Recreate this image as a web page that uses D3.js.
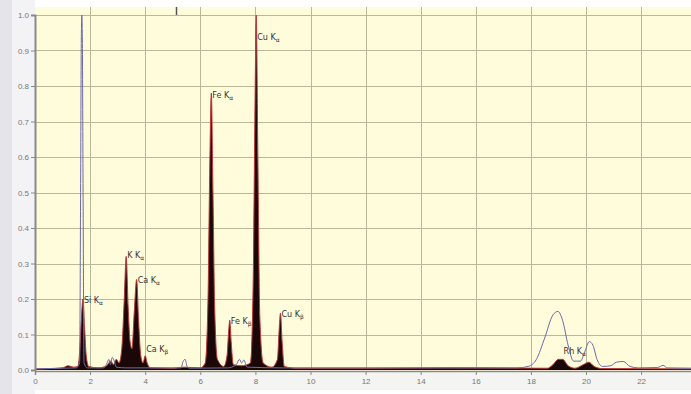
<!DOCTYPE html>
<html>
<head>
<meta charset="utf-8">
<script src="https://cdn.jsdelivr.net/npm/d3@7"></script>
<style>
  body { margin: 0; background: #fff; }
  svg { display: block; font-family: "DejaVu Sans", sans-serif; }
</style>
</head>
<body>
<svg id="chart"></svg>
<script>
const W = 691, H = 394;

// measured spectrum (filled, black with red edge): [keV, intensity]
const sampleSpectrum = [
  [0.0, 0.003], [0.5, 0.004], [1.0, 0.006], [1.2, 0.012], [1.4, 0.008], [1.55, 0.01],
  [1.62, 0.05], [1.68, 0.14], [1.74, 0.2], [1.8, 0.12], [1.86, 0.04], [1.95, 0.01],
  [2.3, 0.006], [2.6, 0.012], [2.75, 0.025], [2.85, 0.015], [2.95, 0.03], [3.05, 0.02],
  [3.15, 0.06], [3.24, 0.2], [3.31, 0.32], [3.38, 0.18], [3.45, 0.08], [3.52, 0.06],
  [3.6, 0.16], [3.69, 0.255], [3.76, 0.14], [3.84, 0.04], [3.92, 0.02], [4.0, 0.04],
  [4.07, 0.02], [4.2, 0.006], [5.0, 0.005], [5.4, 0.008], [6.0, 0.006], [6.18, 0.02],
  [6.28, 0.2], [6.34, 0.55], [6.4, 0.78], [6.46, 0.5], [6.52, 0.18], [6.62, 0.03],
  [6.85, 0.01], [6.97, 0.04], [7.03, 0.11], [7.07, 0.14], [7.12, 0.08], [7.2, 0.015],
  [7.5, 0.012], [7.82, 0.02], [7.92, 0.25], [7.98, 0.7], [8.03, 1.0], [8.09, 0.6],
  [8.16, 0.15], [8.28, 0.02], [8.6, 0.008], [8.8, 0.03], [8.86, 0.11], [8.91, 0.16],
  [8.97, 0.08], [9.05, 0.01], [9.5, 0.005], [12.0, 0.005], [15.0, 0.006], [18.6, 0.005],
  [18.8, 0.015], [19.0, 0.03], [19.15, 0.03], [19.35, 0.012], [19.6, 0.005], [19.9, 0.015],
  [20.1, 0.022], [20.3, 0.01], [20.6, 0.004], [24.0, 0.003]
];

// reference spectrum (outline only): [keV, intensity]
const referenceSpectrum = [
  [0.0, 0.003], [1.0, 0.005], [1.5, 0.006], [1.62, 0.02], [1.655, 0.5], [1.68, 0.92],
  [1.7, 1.0], [1.72, 0.92], [1.745, 0.5], [1.78, 0.02], [1.9, 0.006], [2.5, 0.006],
  [2.62, 0.02], [2.68, 0.03], [2.74, 0.015], [2.8, 0.035], [2.88, 0.025], [2.95, 0.008],
  [3.3, 0.006], [5.3, 0.006], [5.38, 0.025], [5.45, 0.03], [5.52, 0.01], [5.6, 0.005],
  [7.0, 0.006], [7.3, 0.015], [7.42, 0.03], [7.5, 0.02], [7.58, 0.028], [7.7, 0.008],
  [9.0, 0.006], [17.5, 0.006], [17.9, 0.01], [18.2, 0.03], [18.5, 0.09], [18.8, 0.155],
  [18.98, 0.165], [19.15, 0.14], [19.35, 0.07], [19.55, 0.025], [19.8, 0.025], [19.95, 0.05],
  [20.12, 0.08], [20.25, 0.07], [20.4, 0.03], [20.6, 0.01], [20.9, 0.012], [21.1, 0.022],
  [21.35, 0.024], [21.6, 0.01], [21.9, 0.006], [22.6, 0.007], [22.8, 0.013], [22.95, 0.006],
  [24.0, 0.005]
];

// peak labels: [keV, intensity at label baseline, element, line]
const peakLabels = [
  [1.74, 0.19, "Si K", "α"],
  [3.31, 0.315, "K K", "α"],
  [3.69, 0.245, "Ca K", "α"],
  [4.0, 0.05, "Ca K", "β"],
  [6.4, 0.765, "Fe K", "α"],
  [7.07, 0.13, "Fe K", "β"],
  [8.03, 0.93, "Cu K", "α"],
  [8.91, 0.15, "Cu K", "β"],
  [19.15, 0.045, "Rh K", "α"]
];

const xTicks = [0, 2, 4, 6, 8, 10, 12, 14, 16, 18, 20, 22];
const yTicks = [0, 0.1, 0.2, 0.3, 0.4, 0.5, 0.6, 0.7, 0.8, 0.9, 1.0];
const cursorKeV = 5.1;

const plotLeft = 35, plotTop = 7, plotBottom = 370;
const x = d3.scaleLinear().domain([0, 24]).range([plotLeft, plotLeft + 27.55 * 24]);
const y = d3.scaleLinear().domain([0, 1]).range([plotBottom, 15]);

const svg = d3.select("#chart").attr("width", W).attr("height", H);

// panels
svg.append("rect").attr("x", 0).attr("y", 0).attr("width", W).attr("height", H).attr("fill", "#ffffff");
svg.append("rect").attr("x", 0).attr("y", 0).attr("width", 12).attr("height", H).attr("fill", "#e4e4ea");
svg.append("rect").attr("x", 12).attr("y", 0).attr("width", 23).attr("height", H).attr("fill", "#f3f3f6");
svg.append("rect").attr("x", plotLeft).attr("y", plotBottom + 2).attr("width", W - plotLeft).attr("height", 18).attr("fill", "#f4f4f2");
svg.append("rect").attr("x", plotLeft).attr("y", plotTop).attr("width", W - plotLeft).attr("height", plotBottom - plotTop + 2)
  .attr("fill", "#fffcdc");

// grid
const grid = svg.append("g").attr("stroke", "#b9b897").attr("stroke-width", 1);
grid.selectAll("line.h").data(yTicks.slice(1)).enter().append("line")
  .attr("x1", plotLeft).attr("x2", W).attr("y1", d => Math.round(y(d)) + 0.5).attr("y2", d => Math.round(y(d)) + 0.5);
grid.selectAll("line.v").data(xTicks.slice(1)).enter().append("line")
  .attr("y1", plotTop).attr("y2", plotBottom).attr("x1", d => Math.round(x(d)) + 0.5).attr("x2", d => Math.round(x(d)) + 0.5);

// spectra
const line = d3.line().x(d => x(d[0])).y(d => y(d[1])).curve(d3.curveMonotoneX);
const area = d3.area().x(d => x(d[0])).y0(y(0)).y1(d => y(d[1])).curve(d3.curveMonotoneX);

svg.append("path").datum(sampleSpectrum).attr("d", area).attr("fill", "#1a0808");
svg.append("path").datum(sampleSpectrum).attr("d", line).attr("fill", "none")
  .attr("stroke", "#b8383a").attr("stroke-width", 1);
svg.append("path").datum(referenceSpectrum).attr("d", line).attr("fill", "none")
  .attr("stroke", "#6a6aa8").attr("stroke-width", 1);

// cursor mark on top
svg.append("line").attr("x1", Math.round(x(cursorKeV)) + 0.5).attr("x2", Math.round(x(cursorKeV)) + 0.5)
  .attr("y1", plotTop).attr("y2", plotTop + 8).attr("stroke", "#555").attr("stroke-width", 1.5);

// axes
const yAxis = d3.axisLeft(y).tickValues(yTicks).tickFormat(d3.format(".1f")).tickSize(4);
const yg = svg.append("g").attr("transform", `translate(${plotLeft},0)`).call(yAxis);
yg.select(".domain").attr("stroke", "#8a8a8a").attr("stroke-width", 2);
yg.selectAll(".tick line").attr("stroke", "#888");
yg.selectAll("text").attr("fill", "#777").style("font-size", "8px").attr("x", -6);

const xAxis = d3.axisBottom(x).tickValues(xTicks).tickFormat(d3.format("d")).tickSize(4);
const xg = svg.append("g").attr("transform", `translate(0,${plotBottom + 1})`).call(xAxis);
xg.select(".domain").attr("stroke", "#8a8a8a").attr("stroke-width", 1.5);
xg.selectAll(".tick line").attr("stroke", "#888");
xg.selectAll("text").attr("fill", "#777").style("font-size", "8px").attr("y", 7);

// labels
const lab = svg.append("g").attr("fill", "#333").style("font-size", "8px");
peakLabels.forEach(p => {
  const t = lab.append("text").attr("x", x(p[0]) + 1).attr("y", y(p[1]));
  t.append("tspan").text(p[2]);
  t.append("tspan").attr("dy", 2).style("font-size", "6px").text(p[3]);
});
</script>
</body>
</html>
